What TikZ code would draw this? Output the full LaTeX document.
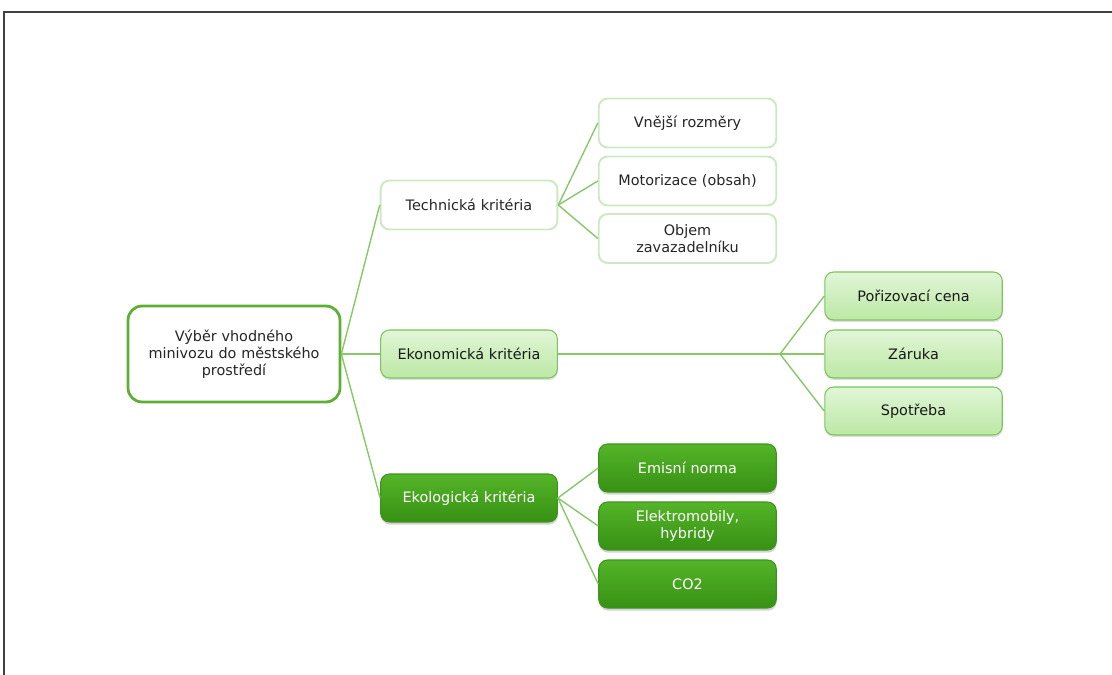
\documentclass[tikz,border=0pt]{standalone}
\usepackage{fontspec}
\setmainfont{DejaVu Sans}
\usepackage{tikz}
\usetikzlibrary{positioning,shadows}

\definecolor{linegreen}{RGB}{135,200,105}
\definecolor{palegreen}{RGB}{205,232,195}
\definecolor{midgreen}{RGB}{125,195,95}
\definecolor{midtop}{RGB}{225,246,215}
\definecolor{midbot}{RGB}{188,232,165}
\definecolor{darkgreen}{RGB}{60,150,25}
\definecolor{darktop}{RGB}{85,180,40}
\definecolor{darkbot}{RGB}{55,145,20}
\definecolor{rootgreen}{RGB}{95,175,55}

\begin{document}
\begin{tikzpicture}[x=0.02cm, y=-0.02cm,
  every node/.style={font=\fontsize{8.2}{9.7}\selectfont, align=center},
  rootbox/.style={draw=rootgreen, line width=1.6pt, fill=white, rounded corners=8pt,
    minimum width=4.24cm, minimum height=1.92cm, text width=3.6cm, text=black!85},
  lightbox/.style={draw=palegreen, line width=1.1pt, fill=white, rounded corners=5pt,
    minimum width=3.55cm, minimum height=0.98cm, text width=3.3cm, text=black!85},
  midbox/.style={draw=midgreen, line width=0.6pt, top color=midtop, bottom color=midbot,
    rounded corners=5pt, drop shadow={opacity=0.25, shadow xshift=0.3pt, shadow yshift=-1.2pt},
    minimum width=3.55cm, minimum height=0.96cm, text width=3.3cm, text=black!90},
  darkbox/.style={draw=darkgreen, line width=0.6pt, top color=darktop, bottom color=darkbot,
    rounded corners=5pt, drop shadow={opacity=0.35, shadow xshift=0.3pt, shadow yshift=-1.5pt},
    minimum width=3.55cm, minimum height=0.96cm, text width=3.3cm, text=white},
  link/.style={draw=linegreen, line width=0.8pt}]

  \useasboundingbox (0,0) rectangle (1112,675);
  % page frame
  \draw[black!75, line width=0.6pt] (1112,12) -- (4,12) -- (4,675);

  % root
  \node[rootbox] (root) at (234,354) {Výběr vhodného\\ minivozu do městského\\ prostředí};

  % level 1
  \node[lightbox, minimum width=3.52cm] (tech) at (469,205) {Technická kritéria};
  \node[midbox, minimum width=3.52cm] (eko) at (469,354) {Ekonomická kritéria};
  \node[darkbox, minimum width=3.52cm] (ekol) at (469,498) {Ekologická kritéria};

  % technical criteria
  \node[lightbox] (rozm) at (687.5,123) {Vnější rozměry};
  \node[lightbox] (motor) at (687.5,181) {Motorizace (obsah)};
  \node[lightbox] (objem) at (687.5,238.5) {Objem\\ zavazadelníku};

  % economic criteria
  \node[midbox] (cena) at (913.5,296) {Pořizovací cena};
  \node[midbox] (zaruka) at (913.5,354) {Záruka};
  \node[midbox] (spotreba) at (913.5,411) {Spotřeba};

  % ecological criteria
  \node[darkbox] (norma) at (687.5,468) {Emisní norma};
  \node[darkbox] (hybrid) at (687.5,526) {Elektromobily,\\ hybridy};
  \node[darkbox] (co) at (687.5,584) {CO2};

  % connectors
  \foreach \n in {tech,eko,ekol}
    \path[link] (root.east) -- (\n.west);
  \foreach \n in {rozm,motor,objem}
    \path[link] (tech.east) -- (\n.west);
  \coordinate (fork) at (780,354);
  \path[link] (eko.east) -- (fork);
  \foreach \n in {cena,zaruka,spotreba}
    \path[link] (fork) -- (\n.west);
  \foreach \n in {norma,hybrid,co}
    \path[link] (ekol.east) -- (\n.west);
\end{tikzpicture}
\end{document}
